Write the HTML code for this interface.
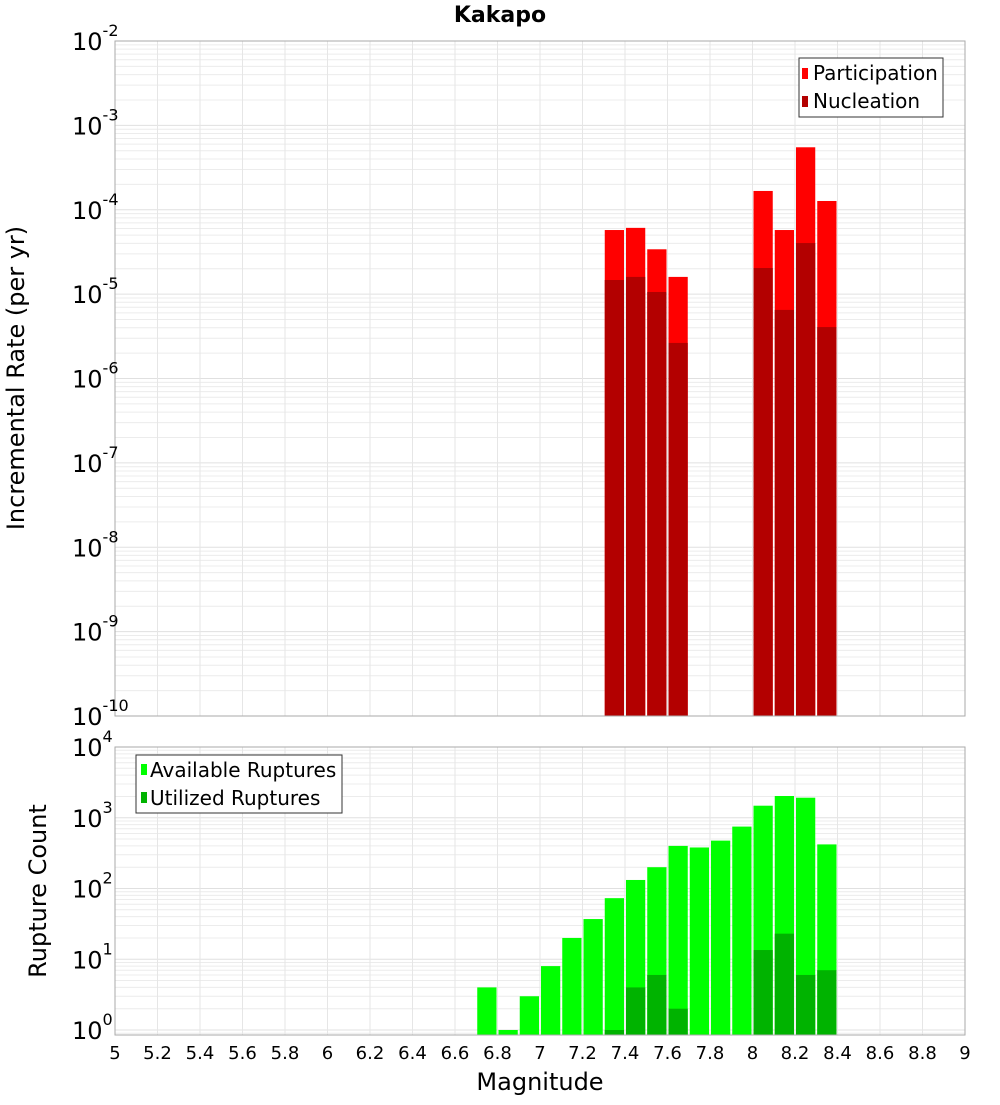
<!DOCTYPE html>
<html><head><meta charset="utf-8"><style>
body{margin:0;background:#fff;font-family:"Liberation Sans","DejaVu Sans",sans-serif}
svg text{font-family:"DejaVu Sans","Liberation Sans",sans-serif}
</style></head><body>
<svg id="chart" width="1000" height="1100" xmlns="http://www.w3.org/2000/svg">
<rect width="1000" height="1100" fill="#fff"/>
<text x="500" y="22" text-anchor="middle" font-size="22" font-weight="bold">Kakapo</text>
<g id="topPanel"></g><g id="botPanel"></g>
</svg>
<script>
const mags=[6.75,6.85,6.95,7.05,7.15,7.25,7.35,7.45,7.55,7.65,7.75,7.85,7.95,8.05,8.15,8.25,8.35];
const participation=[0,0,0,0,0,0,5.75e-5,6.1e-5,3.4e-5,1.6e-5,0,0,0,1.67e-4,5.75e-5,5.5e-4,1.27e-4];
const nucleation=[0,0,0,0,0,0,1.47e-5,1.6e-5,1.06e-5,2.64e-6,0,0,0,2.04e-5,6.5e-6,4.03e-5,4.07e-6];
const available=[4,1,3,8,20,37,73,132,200,400,380,475,750,1480,2030,1920,420];
const utilized=[0,0,0,0,0,0,1,4,6,2,0,0,0,13.5,23,6,7];
const xTicks=[5,5.2,5.4,5.6,5.8,6,6.2,6.4,6.6,6.8,7,7.2,7.4,7.6,7.8,8,8.2,8.4,8.6,8.8,9];
const topExp=[-2,-3,-4,-5,-6,-7,-8,-9,-10];
const botExp=[4,3,2,1,0];
const NS="http://www.w3.org/2000/svg";
const X0=115,X1=965;
const xs=m=>X0+(m-5)/4*(X1-X0);
function mk(p,t,a){const e=document.createElementNS(NS,t);for(const k in a)e.setAttribute(k,a[k]);p.appendChild(e);return e;}
function panel(g,y0,y1,lmax,lmin,name){
  const ys=v=>y0+(lmax-Math.log10(v))/(lmax-lmin)*(y1-y0);
  for(let d=Math.floor(lmin);d<lmax;d++)for(let k=1;k<10;k++){const v=k*Math.pow(10,d);const y=ys(v);if(y<y0-0.1||y>y1+0.1)continue;
    const l=mk(g,'line',{x1:X0,x2:X1,y1:y,y2:y,stroke:k==1?'#e0e0e0':'#ececec','stroke-width':1});
    
    }
  xTicks.forEach(t=>{const l=mk(g,'line',{x1:xs(t),x2:xs(t),y1:y0,y2:y1,stroke:'#e6e6e6'});
    
    });
  return ys;
}
const gTop=document.getElementById('topPanel'),gBot=document.getElementById('botPanel');
const T0=41,T1=716;
const ysT=panel(gTop,T0,T1,-2,-10,'top');
mags.forEach((m,i)=>{
  const xa=xs(m-0.05)+1,w=xs(m+0.05)-xs(m-0.05)-2;
  if(participation[i]>0){const y=ysT(participation[i]);const r=mk(gTop,'rect',{x:xa,y:y,width:w,height:T1-y,fill:'#ff0000'});
    
    }
  if(nucleation[i]>0){const y=ysT(nucleation[i]);const r=mk(gTop,'rect',{x:xa,y:y,width:w,height:T1-y,fill:'#b30000'});
    
    }
});
mk(gTop,'rect',{x:X0,y:T0,width:X1-X0,height:T1-T0,fill:'none',stroke:'#aaa'});
topExp.forEach(e=>{const y=ysT(Math.pow(10,e));const t=mk(gTop,'text',{x:72,y:y+9,'font-size':24});
  
  
  t.innerHTML='10<tspan dy="-14" font-size="16">'+e+'</tspan>';});
{const t=mk(gTop,'text',{x:24,y:378,'text-anchor':'middle','font-size':24,transform:'rotate(-90 24 378)'});t.textContent='Incremental Rate (per yr)';

}
{const lg=mk(gTop,'g',{});


mk(lg,'rect',{x:799,y:58,width:144,height:59,fill:'#fff',stroke:'#333'});
mk(lg,'rect',{x:802,y:68,width:6,height:11,fill:'#ff0000'});
mk(lg,'rect',{x:802,y:96,width:6,height:11,fill:'#b30000'});
const a=mk(lg,'text',{x:813,y:80,'font-size':20});a.textContent='Participation';


const b=mk(lg,'text',{x:813,y:108,'font-size':20});b.textContent='Nucleation';

}
const B0=747,B1=1035;
const lminB=-5/70.75;
const ysB=panel(gBot,B0,B1,4,lminB,'bottom');
mags.forEach((m,i)=>{
  const xa=xs(m-0.05)+1,w=xs(m+0.05)-xs(m-0.05)-2;
  if(available[i]>0){const y=ysB(available[i]);const r=mk(gBot,'rect',{x:xa,y:y,width:w,height:B1-y,fill:'#00ff00'});
    
    }
  if(utilized[i]>0){const y=ysB(utilized[i]);const r=mk(gBot,'rect',{x:xa,y:y,width:w,height:B1-y,fill:'#00b300'});
    
    }
});
mk(gBot,'rect',{x:X0,y:B0,width:X1-X0,height:B1-B0,fill:'none',stroke:'#aaa'});
botExp.forEach(e=>{const y=ysB(Math.pow(10,e));const t=mk(gBot,'text',{x:72,y:y+9,'font-size':24});
  
  
  t.innerHTML='10<tspan dy="-14" font-size="16">'+e+'</tspan>';});
xTicks.forEach(v=>{const t=mk(gBot,'text',{x:xs(v),y:1059,'text-anchor':'middle','font-size':18});t.textContent=String(v);
  
  });
{const t=mk(gBot,'text',{x:540,y:1090,'text-anchor':'middle','font-size':24});t.textContent='Magnitude';

}
{const t=mk(gBot,'text',{x:46,y:891,'text-anchor':'middle','font-size':24,transform:'rotate(-90 46 891)'});t.textContent='Rupture Count';

}
{const lg=mk(gBot,'g',{});


mk(lg,'rect',{x:136,y:755,width:206,height:58,fill:'#fff',stroke:'#333'});
mk(lg,'rect',{x:141,y:764,width:6,height:11,fill:'#00ff00'});
mk(lg,'rect',{x:141,y:792,width:6,height:11,fill:'#00b300'});
const a=mk(lg,'text',{x:150,y:777,'font-size':20});a.textContent='Available Ruptures';


const b=mk(lg,'text',{x:150,y:805,'font-size':20});b.textContent='Utilized Ruptures';

}
</script>
</body></html>
